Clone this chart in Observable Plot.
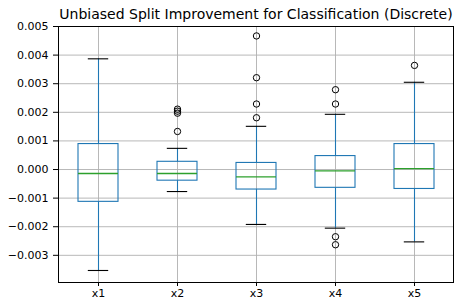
<!DOCTYPE html>
<html>
<head>
<meta charset="utf-8">
<script src="https://cdn.jsdelivr.net/npm/d3@7"></script>
<script src="https://cdn.jsdelivr.net/npm/@observablehq/plot@0.6"></script>
<style>
  html, body { margin: 0; padding: 0; background: #fff; }
</style>
</head>
<body>
<div id="chart"></div>
<script>
const title = "Unbiased Split Improvement for Classification (Discrete)";
const categories = ["x1", "x2", "x3", "x4", "x5"];
const whiskerLow = [-0.00353, -0.00077, -0.00192, -0.00205, -0.00253];
const q1 = [-0.00113, -0.00039, -0.00070, -0.00064, -0.00068];
const medians = [-0.00014, -0.00014, -0.00026, -0.00005, 0.00003];
const q3 = [0.00089, 0.00027, 0.00023, 0.00047, 0.00089];
const whiskerHigh = [0.00387, 0.00074, 0.00151, 0.00193, 0.00305];
const outlierSeries = ["x2", "x2", "x2", "x2", "x3", "x3", "x3", "x3", "x4", "x4", "x4", "x4", "x5"];
const outlierValues = [0.00211, 0.00204, 0.00197, 0.00133, 0.00467, 0.00321, 0.00229, 0.00181, 0.00279, 0.00229, -0.00235, -0.00263, 0.00364];
const yTicks = [-0.003, -0.002, -0.001, 0.000, 0.001, 0.002, 0.003, 0.004, 0.005];

const rows = categories.map((c, i) => ({
  cat: c, low: whiskerLow[i], q1: q1[i], med: medians[i], q3: q3[i], high: whiskerHigh[i]
}));
const outliers = outlierSeries.map((c, i) => ({cat: c, v: outlierValues[i]}));

const blue = "#1f77b4", green = "#2ca02c", gridColor = "#b0b0b0";

const chart = Plot.plot({
  width: 456,
  height: 301,
  marginLeft: 58,
  marginRight: 3,
  marginTop: 26,
  marginBottom: 19,
  style: {fontFamily: "DejaVu Sans", fontSize: "11px", color: "#000", background: "#fff"},
  x: {type: "band", domain: categories, paddingInner: 0.5, paddingOuter: 0.25,
      tickSize: 4, tickPadding: 3, label: null},
  y: {domain: [-0.00395, 0.005], ticks: yTicks, tickFormat: d3.format(".3f"),
      tickSize: 5, tickPadding: 5, label: null},
  marks: [
    Plot.ruleY(yTicks, {y: d => d, stroke: gridColor, strokeWidth: 0.9}),
    Plot.ruleX(categories, {x: d => d, stroke: gridColor, strokeWidth: 0.9}),
    Plot.ruleX(rows, {x: "cat", y1: "q3", y2: "high", stroke: blue, strokeWidth: 1.1}),
    Plot.ruleX(rows, {x: "cat", y1: "low", y2: "q1", stroke: blue, strokeWidth: 1.1}),
    Plot.barY(rows, {x: "cat", y1: "q1", y2: "q3", fill: "none", stroke: blue, strokeWidth: 1.1}),
    Plot.tickY(rows, {x: "cat", y: "med", stroke: green, strokeWidth: 1.3}),
    Plot.tickY(rows, {x: "cat", y: "high", stroke: "#000", strokeWidth: 1.1, insetLeft: 9.8, insetRight: 9.8}),
    Plot.tickY(rows, {x: "cat", y: "low", stroke: "#000", strokeWidth: 1.1, insetLeft: 9.8, insetRight: 9.8}),
    Plot.dot(outliers, {x: "cat", y: "v", r: 3.2, stroke: "#000", fill: "none", strokeWidth: 1}),
    Plot.frame({stroke: "#000", strokeWidth: 1}),
    Plot.text([title], {frameAnchor: "top", dy: -8, lineAnchor: "bottom", fontSize: 14, fill: "#000"})
  ]
});
document.getElementById("chart").appendChild(chart);
</script>
</body>
</html>
